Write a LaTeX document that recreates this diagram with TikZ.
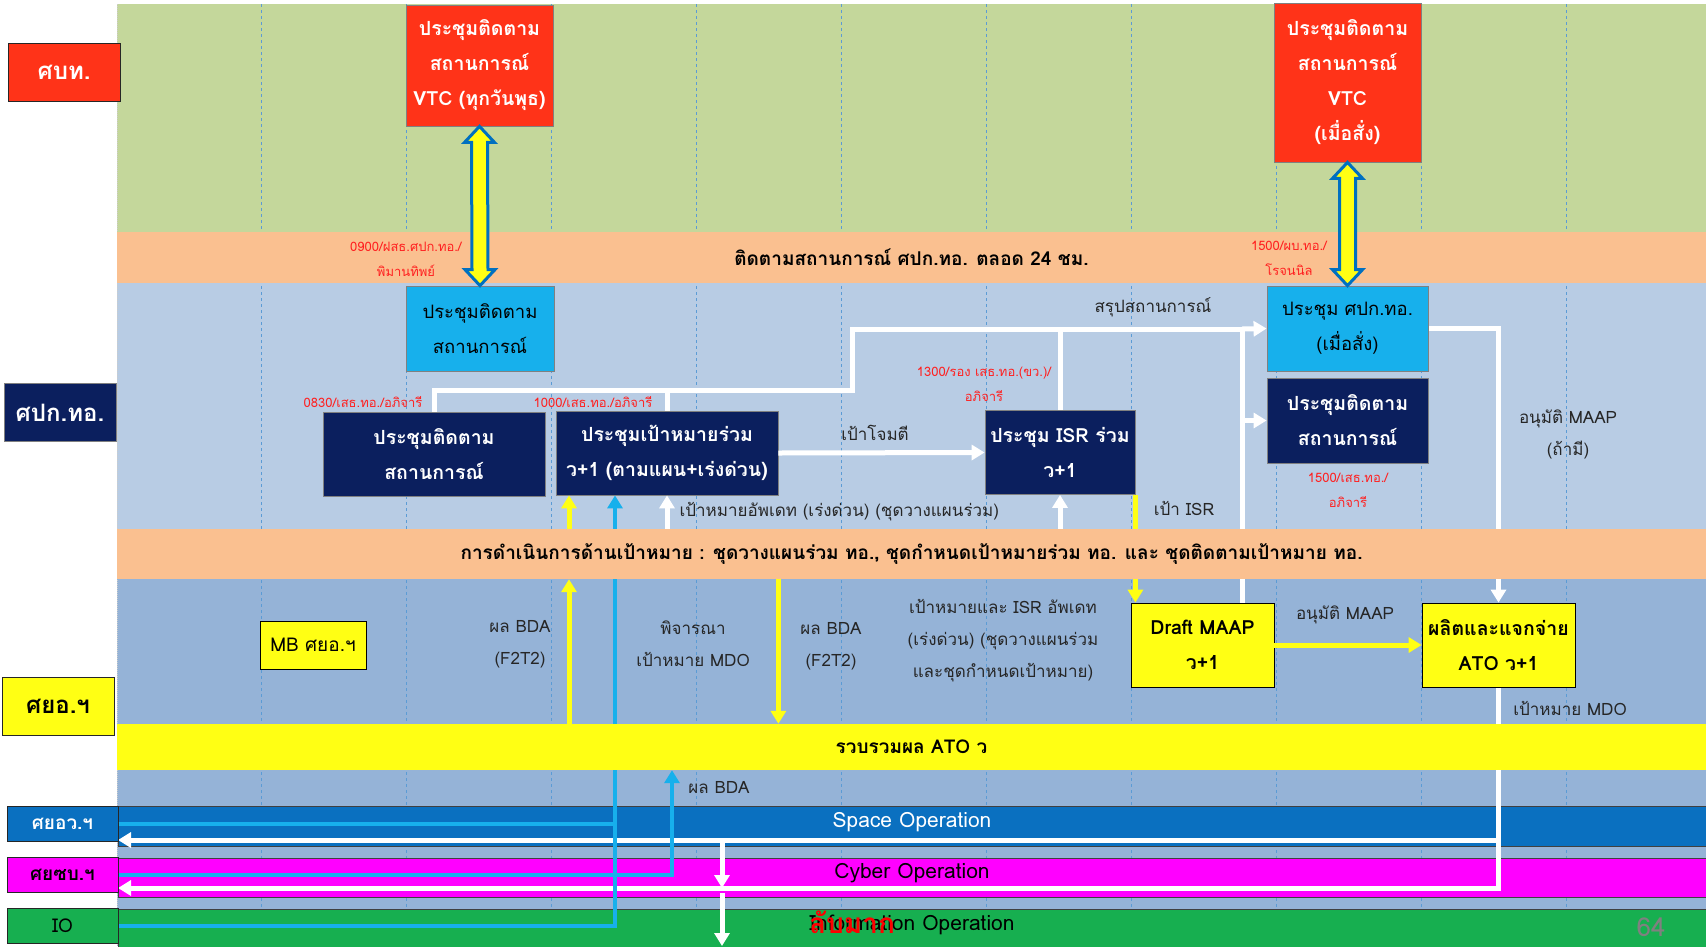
\documentclass[tikz,border=0pt]{standalone}
\usepackage{fontspec}
\setmainfont{Loma}[Script=Thai]
\usepackage{tikz}
\usetikzlibrary{calc,arrows.meta,positioning}
\definecolor{laneGreen}{HTML}{C4D79B}
\definecolor{lanePeach}{HTML}{FAC090}
\definecolor{laneLight}{HTML}{B8CCE4}
\definecolor{laneMid}{HTML}{95B3D7}
\definecolor{atoYellow}{HTML}{FFFF14}
\definecolor{vtcRed}{HTML}{FF3318}
\definecolor{mtgCyan}{HTML}{17B0EC}
\definecolor{hqNavy}{HTML}{0B1F5E}
\definecolor{spaceBlue}{HTML}{0A70C0}
\definecolor{cyberPink}{HTML}{FF00FF}
\definecolor{ioGreen}{HTML}{17AF50}
\definecolor{gridBlue}{HTML}{5B9BD5}
\definecolor{arrowBlue}{HTML}{0070C0}
\definecolor{noteRed}{HTML}{FF2020}
\definecolor{labelInk}{HTML}{262626}
\newcommand{\tsize}[2]{\fontsize{#1}{#2}\selectfont}
% yellow two-headed block arrow between two anchors
\newcommand{\bothways}[2]{%
  \draw[dbl] (#1) -- ++(15,16) -- ++(-7,0) -- ($(#2)+(8,-16)$) -- ++(7,0)
    -- (#2) -- ++(-15,-16) -- ++(7,0) -- ($(#1)+(-8,16)$) -- ++(-7,0) -- cycle;}
\pgfdeclarelayer{lanes}
\pgfdeclarelayer{wires}
\pgfsetlayers{lanes,wires,main}

\begin{document}
\begin{tikzpicture}[x=1pt, y=-1pt,
  hdr/.style={draw=black!85, line width=1pt, inner sep=0pt, minimum width=112pt,
    minimum height=58pt, font=\tsize{24}{28}\bfseries},
  oplbl/.style={draw=black!85, line width=1pt, inner sep=0pt, minimum width=111pt,
    minimum height=35pt, font=\tsize{19}{22}\bfseries},
  meet/.style={draw=gray, line width=0.8pt, inner sep=0pt, align=center,
    font=\tsize{19.5}{35}\bfseries},
  vtcbox/.style={meet, fill=vtcRed, text=white, minimum width=147pt},
  cyanbox/.style={meet, fill=mtgCyan, text=black, font=\tsize{18.5}{35},
    minimum width=148pt, minimum height=85pt},
  navybox/.style={meet, fill=hqNavy, text=white, minimum height=84pt},
  yelbox/.style={meet, draw=black, fill=atoYellow, text=black},
  band/.style={inner sep=0pt, minimum width=1589pt, font=\tsize{19}{24}\bfseries},
  optext/.style={font=\tsize{21}{24}},
  note/.style={text=noteRed, align=center, font=\tsize{13}{25}},
  lbl/.style={text=labelInk, align=center, font=\tsize{17}{32}},
  gridline/.style={gridBlue, dashed, line width=0.6pt},
  wline/.style={white, line width=5pt},
  yline/.style={atoYellow, line width=5pt},
  cline/.style={mtgCyan, line width=4pt},
  headtip/.style={-{Triangle[length=13pt,width=15pt]}},
  dbl/.style={fill=atoYellow, draw=arrowBlue, line width=3pt}
]
  \useasboundingbox (0,0) rectangle (1706,946);

  % ── swimlanes ──
  \begin{pgfonlayer}{lanes}
    \fill[white] (0,0) rectangle (1706,946);
    \fill[laneGreen] (117,4) rectangle (1706,232);
    \fill[laneLight] (117,283) rectangle (1706,529);
    \fill[laneMid] (117,579) rectangle (1706,946);
    \draw[gray!40, densely dotted, line width=1pt] (117,4) -- (117,946);
    \foreach \gx in {261,406,...,1566}
      \draw[gridline] (\gx,4) -- (\gx,946);
    % operation bands
    \fill[spaceBlue, draw=black!75] (118,806) rectangle (1706,846);
    \fill[cyberPink, draw=black!75] (118,858) rectangle (1706,897);
    \fill[ioGreen, draw=black!75] (118,909) rectangle (1706,950);
  \end{pgfonlayer}

  % ── row labels ──
  \node[hdr, fill=vtcRed, text=white] (lblBT) at (64,72) {ศบท.};
  \node[hdr, fill=hqNavy, text=white, draw=gray] (lblHQ) at (60,412.5) {ศปก.ทอ.};
  \node[hdr, fill=atoYellow] (lblAO) at (58,706) {ศยอ.ฯ};
  \node[oplbl, fill=spaceBlue, text=white] (lblSp) at (62.5,823.5) {ศยอว.ฯ};
  \node[oplbl, fill=cyberPink] (lblCy) at (62.5,875) {ศยซบ.ฯ};
  \node[oplbl, fill=ioGreen, font=\tsize{19}{22}] (lblIO) at (62.5,926) {IO};

  % ── bands with text ──
  \node[band, fill=lanePeach, minimum height=51pt] (sitBand) at (911.5,257.5)
    {ติดตามสถานการณ์ ศปก.ทอ. ตลอด 24 ชม.};
  \node[band, fill=lanePeach, minimum height=50pt] (tgtBand) at (911.5,554)
    {การดำเนินการด้านเป้าหมาย : ชุดวางแผนร่วม ทอ., ชุดกำหนดเป้าหมายร่วม ทอ. และ ชุดติดตามเป้าหมาย ทอ.};
  \node[band, fill=atoYellow, minimum height=46pt] (atoBand) at (911.5,747)
    {รวบรวมผล ATO ว};
  \node[optext, text=white] (spaceOp) at (912,822) {Space Operation};
  \node[optext] (cyberOp) at (912,873) {Cyber Operation};
  \node[optext] (infoOp) at (912,925) {Information Operation};

  % ── meetings ──
  \node[vtcbox, minimum height=121pt] (vtcWeek) at (479.5,65.5)
    {ประชุมติดตาม\\สถานการณ์\\VTC (ทุกวันพุธ)};
  \node[vtcbox, minimum height=159pt] (vtcOrder) at (1347.5,82.5)
    {ประชุมติดตาม\\สถานการณ์\\VTC\\(เมื่อสั่ง)};
  \node[cyanbox] (mtgSit) at (480,328.5) {ประชุมติดตาม\\สถานการณ์};
  \node[cyanbox, minimum width=161pt] (mtgCmd) at (1347.5,328.5)
    {ประชุม ศปก.ทอ.\\(เมื่อสั่ง)};
  \node[navybox, minimum width=222pt] (sitDaily) at (434,454)
    {ประชุมติดตาม\\สถานการณ์};
  \node[navybox, minimum width=222pt] (tgtJoint) at (667,453)
    {ประชุมเป้าหมายร่วม\\ว+1 (ตามแผน+เร่งด่วน)};
  \node[navybox, minimum width=150pt] (isrJoint) at (1060,452.5)
    {ประชุม ISR ร่วม\\ว+1};
  \node[navybox, minimum width=161pt, minimum height=85pt] (sitPM) at (1347.5,420.5)
    {ประชุมติดตาม\\สถานการณ์};
  \node[yelbox, minimum width=143pt, minimum height=84pt] (maapDraft) at (1202.5,645)
    {Draft MAAP\\ว+1};
  \node[yelbox, minimum width=153pt, minimum height=84pt] (atoIssue) at (1498.5,645)
    {ผลิตและแจกจ่าย\\ATO ว+1};
  \node[yelbox, minimum width=106pt, minimum height=48pt, font=\tsize{19}{22}]
    (mbAOC) at (313,645) {MB ศยอ.ฯ};

  % ── times and places ──
  \node[note] (tWeek) at (406,259) {0900/ฝสธ.ศปก.ทอ./\\พิมานทิพย์};
  \node[note] (tOrder) at (1289,258) {1500/ผบ.ทอ./\\โรจนนิล};
  \node[note] (tSit) at (363,402) {0830/เสธ.ทอ./อภิจารี};
  \node[note] (tTgt) at (593,402) {1000/เสธ.ทอ./อภิจารี};
  \node[note] (tIsr) at (984,384) {1300/รอง เสธ.ทอ.(ขว.)/\\อภิจารี};
  \node[note] (tPM) at (1348,490) {1500/เสธ.ทอ./\\อภิจารี};

  % ── helper points ──
  \coordinate (hqTurn) at (852,390);
  \coordinate (hqJunc) at (1242,329);
  \coordinate (yX) at (569,0);
  \coordinate (cyX) at (615,0);
  \coordinate (bdaX) at (672,0);
  \coordinate (mdoX) at (722,0);
  \coordinate (mdoSp) at (118,840);
  \coordinate (mdoCy) at (118,888);
  \coordinate (ioEnd) at (722,946);

  % ── lines that pass under the bands ──
  \begin{pgfonlayer}{wires}
    \draw[wline] (sitDaily.north) |- (hqTurn) -- (hqTurn |- hqJunc) -- (hqJunc)
      -- (hqJunc |- maapDraft.north);
    \draw[wline] (tgtJoint.north) -- (tgtJoint.north |- hqTurn);
    \draw[wline] (isrJoint.north) -- (isrJoint.north |- hqJunc);
    \draw[wline, headtip] (mtgCmd.east) -| (atoIssue.north);
    \draw[wline, headtip] (atoIssue.south) |- (mdoCy);
    \draw[wline, headtip] (atoIssue.south |- mdoSp) -- (mdoSp);
    \draw[yline, headtip] (isrJoint.south east) -- (isrJoint.south east |- maapDraft.north);
    \draw[cline, headtip] (lblIO.east) -| (cyX |- tgtJoint.south);
  \end{pgfonlayer}

  % ── VTC links ──
  \bothways{vtcWeek.south}{mtgSit.north}
  \bothways{vtcOrder.south}{mtgCmd.north}

  % ── flow arrows ──
  \draw[wline, headtip] (tgtJoint.east) -- (isrJoint.west);
  \draw[wline, headtip] (hqJunc) -- (mtgCmd.west);
  \draw[wline, headtip] (hqJunc |- sitPM.west) -- (sitPM.west);
  \draw[wline, headtip] (tgtJoint.south |- tgtBand.north) -- (tgtJoint.south);
  \draw[wline, headtip] (isrJoint.south |- tgtBand.north) -- (isrJoint.south);
  \draw[yline, headtip] (yX |- tgtBand.north) -- (yX |- tgtJoint.south);
  \draw[yline, headtip] (yX |- atoBand.north) -- (yX |- tgtBand.south);
  \draw[yline, headtip] (tgtJoint.south east |- tgtBand.south)
    -- (tgtJoint.south east |- atoBand.north);
  \draw[yline, headtip] (maapDraft.east) -- (atoIssue.west);
  \draw[cline] (lblSp.east) -- (cyX |- lblSp.east);
  \draw[cline, headtip] (lblCy.east) -| (bdaX |- atoBand.south);
  \draw[wline, headtip] (mdoX |- mdoSp) -- (mdoX |- mdoCy);
  \draw[wline, headtip] ([yshift=-5pt]mdoX |- mdoCy) -- (ioEnd);

  % ── labels ──
  \node[lbl] (lStrike) at (875,433) {เป้าโจมตี};
  \node[lbl] (lSum) at (1153,307) {สรุปสถานการณ์};
  \node[lbl, anchor=west] (lUpd) at (676,512) {เป้าหมายอัพเดท (เร่งด่วน) (ชุดวางแผนร่วม)};
  \node[lbl] (lIsr) at (1184,508) {เป้า ISR};
  \node[lbl] (lApprove) at (1568,434) {อนุมัติ MAAP\\(ถ้ามี)};
  \node[lbl] (lBdaA) at (520,644) {ผล BDA\\(F2T2)};
  \node[lbl] (lMdo) at (693,644) {พิจารณา\\เป้าหมาย MDO};
  \node[lbl] (lBdaB) at (831,646) {ผล BDA\\(F2T2)};
  \node[lbl] (lIsrUpd) at (1003,641)
    {เป้าหมายและ ISR อัพเดท\\(เร่งด่วน) (ชุดวางแผนร่วม\\และชุดกำหนดเป้าหมาย)};
  \node[lbl] (lMaap) at (1345,615) {อนุมัติ MAAP};
  \node[lbl] (lMdoOut) at (1570,708) {เป้าหมาย MDO};
  \node[lbl] (lBdaC) at (719,788) {ผล BDA};

  % ── stamp and page ──
  \node[text=red, font=\tsize{28}{30}\bfseries] (stamp) at (852,922) {ลับมาก};
  \node[text=gray, font=\tsize{26}{30}] (pageNo) at (1651,927) {64};
\end{tikzpicture}
\end{document}
